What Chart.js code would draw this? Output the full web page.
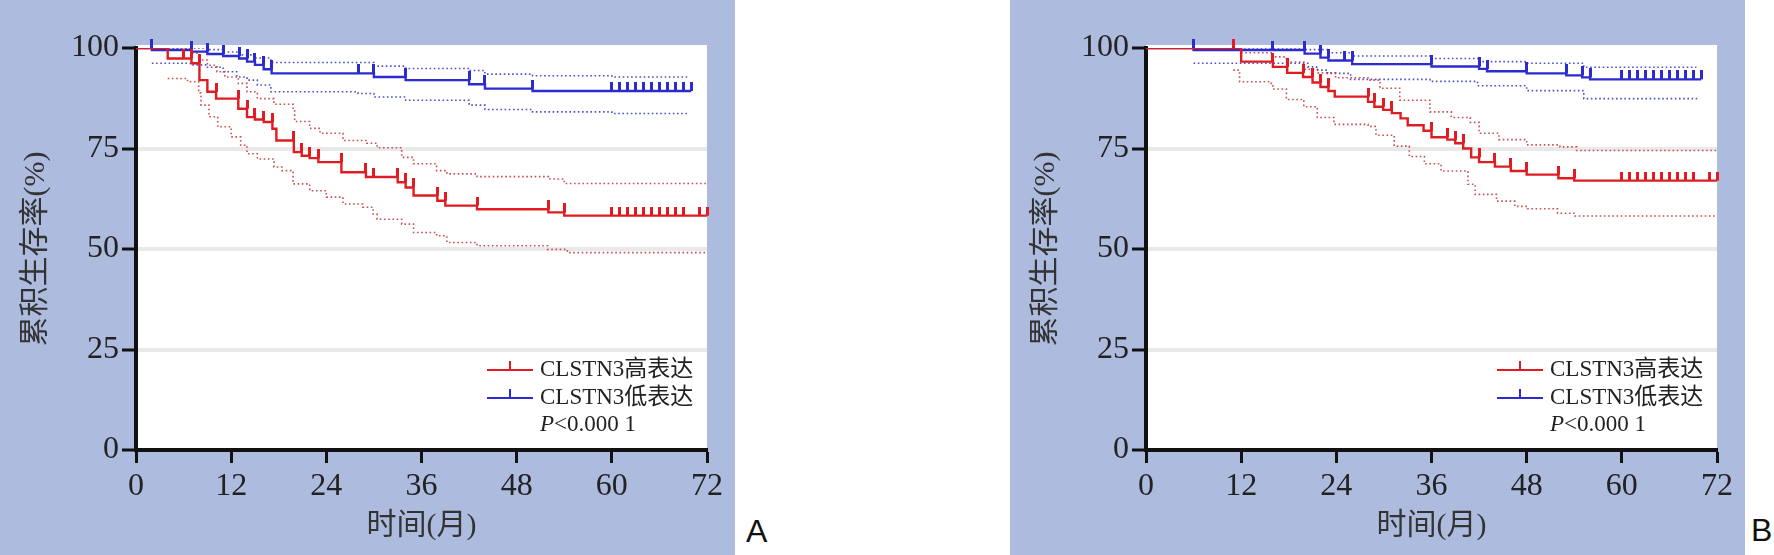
<!DOCTYPE html>
<html>
<head>
<meta charset="utf-8">
<script src="https://cdn.jsdelivr.net/npm/chart.js@4.4.0/dist/chart.umd.min.js"></script>
<style>
  body { margin: 0; background: #fff; width: 1774px; height: 555px; position: relative; overflow: hidden; }
  canvas { position: absolute; top: 0; }
  .tag { position: absolute; font: 32px "Liberation Sans", Arial, sans-serif; color: #111; line-height: 32px; }
</style>
</head>
<body>
<canvas id="chartA" width="735" height="555" style="left:0"></canvas>
<canvas id="chartB" width="735" height="555" style="left:1010px"></canvas>
<div class="tag" style="left:746px;top:515px">A</div>
<div class="tag" style="left:1751px;top:514px">B</div>
<script>
const xTicks = [0, 12, 24, 36, 48, 60, 72];
const yTicks = [0, 25, 50, 75, 100];
const seriesNames = ['CLSTN3高表达', 'CLSTN3低表达'];
const pText = '<0.000 1';
const xTitle = '时间(月)';
const yTitle = '累积生存率(%)';

// ---- panel A ----
// high expression (red): step times / survival %
const highA_t = [0, 4, 7, 8, 9, 10.1, 12.9, 14, 15, 16.1, 17.2, 17.7, 19.9, 20.9, 21.9, 23, 25.9, 29, 33, 34, 35, 38, 39, 43, 52, 54, 72];
const highA_s = [100, 97.4, 96.2, 92, 89.1, 87.4, 84.9, 82.8, 82.2, 81.6, 79.9, 77, 74.1, 73.2, 72.6, 71.6, 69.1, 67.9, 66.6, 65.3, 63.3, 62.0, 60.8, 59.9, 59.1, 58.3, 58.3];
const highA_ct = [6, 7, 8, 10.1, 12.9, 14, 15, 16.1, 17.2, 19.9, 20.9, 21.9, 23, 25.9, 29, 30, 33, 34, 35, 38, 39, 43, 52, 54, 60, 61, 62, 63, 64, 65, 66, 67, 68, 69, 71, 72];
const highA_cs = [97.4, 97.4, 96.2, 89.1, 87.4, 84.9, 82.8, 82.2, 81.6, 77.0, 74.1, 73.2, 72.6, 71.6, 69.1, 67.9, 67.9, 66.6, 65.3, 63.3, 62.0, 60.8, 59.9, 59.1, 58.3, 58.3, 58.3, 58.3, 58.3, 58.3, 58.3, 58.3, 58.3, 58.3, 58.3, 58.3];
const highA_upT = [4, 7, 8, 9, 10.2, 11.2, 12.9, 14, 15.3, 17.4, 19.8, 20, 21.9, 23.2, 26.1, 29.1, 30.4, 33.5, 35, 37.9, 39.2, 43, 52, 54, 72];
const highA_upS = [100, 98.7, 97, 95.7, 94.1, 92.8, 91.2, 89.1, 87.4, 86, 84.4, 81.7, 80, 78.8, 77, 76.3, 75.2, 72.8, 71.2, 69.5, 68.7, 68, 67.4, 66.3, 66.3];
const highA_loT = [4, 6.5, 7.9, 8.2, 9.2, 10.3, 12, 13.2, 14, 15.3, 17.4, 18.4, 19.8, 21.9, 24, 26.1, 28.6, 29.9, 30.4, 33.5, 35, 37.9, 39.2, 43, 51.9, 54.4, 72];
const highA_loS = [92.4, 91.6, 88.8, 85.8, 82.9, 80.4, 77.9, 75.8, 73.7, 72.4, 70.4, 69.5, 66.2, 64.5, 62.9, 61.2, 60.4, 58.7, 57.4, 56.2, 54.1, 53.3, 51.6, 50.8, 49.9, 49.1, 49.1];

// low expression (blue)
const lowA_t = [0, 2, 7, 9, 11, 13, 14, 15, 16.1, 17.1, 30, 34, 42, 44, 50, 70];
const lowA_s = [100, 99.5, 99.1, 98.5, 98.0, 97.4, 96.6, 95.8, 94.7, 93.7, 92.8, 92.0, 91.0, 89.9, 89.3, 89.3];
const lowA_ct = [2, 7, 9, 11, 13, 14, 15, 16.1, 17.1, 28, 30, 34, 42, 44, 50, 60, 61, 62, 63, 64, 65, 66, 67, 68, 69, 70];
const lowA_cs = [100, 99.5, 99.1, 98.5, 98.0, 97.4, 96.6, 95.8, 94.7, 93.7, 93.7, 92.8, 92.0, 91.0, 89.9, 89.3, 89.3, 89.3, 89.3, 89.3, 89.3, 89.3, 89.3, 89.3, 89.3, 89.3];
const lowA_upT = [2, 9, 11, 13, 15, 17, 30, 34, 42, 44, 50, 60, 69.5];
const lowA_upS = [100, 99.6, 99.0, 98.3, 97.5, 96.4, 95.5, 94.9, 94.4, 93.5, 93.1, 92.8, 92.8];
const lowA_loT = [2, 7.2, 9, 11, 12.7, 14, 15.3, 17, 28, 30, 34, 42, 44, 50, 60, 69.5];
const lowA_loS = [96.2, 95.8, 95.2, 94.1, 92.8, 92.0, 90.8, 89.1, 88.7, 87.8, 87.0, 85.8, 84.7, 84.1, 83.7, 83.7];

// ---- panel B ----
const highB_t = [0, 12, 16, 17.8, 19.8, 21, 22, 23, 23.8, 28, 28.8, 29.9, 31, 32.1, 33, 35, 36, 38, 39, 40, 41, 42, 44, 46, 48, 52, 54, 72];
const highB_s = [100, 96.6, 95.3, 93.8, 92.8, 91.4, 90.3, 89.3, 87.9, 86.6, 85.4, 84.6, 83.8, 82.5, 80.8, 79.4, 77.8, 77.2, 76.3, 75.0, 72.8, 71.6, 70.5, 69.4, 68.5, 67.6, 67.0, 67.0];
const highB_ct = [11, 16, 17.8, 19.8, 21, 22, 23, 28, 28.8, 29.9, 31, 36, 38, 39, 40, 42, 44, 46, 48, 52, 54, 60, 61, 62, 63, 64, 65, 66, 67, 68, 69, 71, 72];
const highB_cs = [100, 96.6, 95.3, 93.8, 92.8, 91.4, 90.3, 87.9, 86.6, 85.4, 84.6, 79.4, 77.8, 77.2, 76.3, 72.8, 71.6, 70.5, 69.4, 68.5, 67.6, 67.0, 67.0, 67.0, 67.0, 67.0, 67.0, 67.0, 67.0, 67.0, 67.0, 67.0, 67.0];
const highB_upT = [11, 12, 16, 17.7, 19.9, 21.6, 23.9, 28, 29.5, 32, 35.8, 38.5, 40.9, 42, 44.5, 48, 52.2, 54.3, 72];
const highB_upS = [100, 98.8, 97.8, 96.5, 94.7, 93.8, 92.6, 92.0, 90.0, 87.0, 84.1, 82.7, 81.5, 78.8, 77.2, 75.9, 75.4, 74.5, 74.5];
const highB_loT = [11, 11.8, 15.8, 16, 17.7, 19.9, 21.6, 23.7, 28, 29, 31.3, 33.2, 35.1, 37.2, 40.6, 41.5, 44.2, 46.5, 48.1, 51.9, 54.1, 72];
const highB_loS = [94.5, 91.6, 91.2, 89.8, 87.2, 85.4, 82.7, 81.0, 80.5, 78.3, 75.6, 73.0, 71.2, 69.4, 66.1, 63.6, 61.9, 60.6, 60.0, 58.9, 58.2, 58.2];

const lowB_t = [0, 6, 20, 22, 23, 26, 36, 42, 43, 48, 53, 55, 56, 70];
const lowB_s = [100, 99.5, 98.6, 97.6, 96.9, 96.0, 95.4, 94.8, 94.2, 93.7, 93.2, 92.7, 92.2, 92.2];
const lowB_ct = [6, 16, 20, 22, 23, 25, 26, 36, 42, 43, 48, 53, 55, 56, 60, 61, 62, 63, 64, 65, 66, 67, 68, 69, 70];
const lowB_cs = [100, 99.5, 99.5, 98.6, 97.6, 96.9, 96.9, 96.0, 95.4, 94.8, 94.2, 93.7, 93.2, 92.7, 92.2, 92.2, 92.2, 92.2, 92.2, 92.2, 92.2, 92.2, 92.2, 92.2, 92.2];
const lowB_upT = [6, 20, 23, 26, 36, 42, 48, 55.2, 69.4];
const lowB_upS = [100, 99.6, 98.8, 98.0, 97.4, 96.6, 96.2, 95.2, 95.2];
const lowB_loT = [6, 16, 20.4, 21.5, 22.9, 25.8, 35.8, 41.8, 48, 55.2, 69.4];
const lowB_loS = [96.2, 96.2, 95.3, 94.5, 93.7, 92.2, 91.7, 90.6, 89.4, 87.4, 87.2];

const RED = '#e01c22';
const BLUE = '#2b2bcf';
const RED_CI = 'rgba(200,60,60,0.9)';
const BLUE_CI = 'rgba(60,60,200,0.9)';
const serif = '"Liberation Serif", "Times New Roman", serif';
const mixed = '"Liberation Serif", "Noto Sans CJK SC", sans-serif';

function pts(t, s) {
  return t.map((v, i) => ({ x: v, y: s[i] }));
}

// censor mark: short vertical tick rising from the curve
function tickImg(color) {
  const c = document.createElement('canvas');
  c.width = 3; c.height = 18;
  const g = c.getContext('2d');
  g.fillStyle = color;
  g.fillRect(0, 0, 3, 9);
  return c;
}

function kmSet(t, s, color, order) {
  return { data: pts(t, s), borderColor: color, borderWidth: 2.4, stepped: true,
    pointRadius: 0, fill: false, order: order };
}
function censorSet(t, s, color, order) {
  return { data: pts(t, s), showLine: false, pointStyle: tickImg(color), pointRadius: 5,
    borderColor: color, backgroundColor: color, order: order, clip: false };
}
function ciSet(t, s, color) {
  return { data: pts(t, s), borderColor: color, borderWidth: 1.6, borderDash: [1.6, 2.6],
    stepped: true, pointRadius: 0, fill: false, order: 6 };
}

const panelBg = {
  id: 'panelBg',
  beforeDraw(chart) {
    const { ctx, chartArea: a } = chart;
    ctx.save();
    ctx.fillStyle = '#adbbde';
    ctx.fillRect(0, 0, chart.width, chart.height);
    ctx.fillStyle = '#fff';
    ctx.fillRect(a.left, a.top - 3, a.right - a.left, a.bottom - a.top + 3);
    ctx.restore();
  }
};

const kmLegend = {
  id: 'kmLegend',
  afterDatasetsDraw(chart) {
    const { ctx, chartArea: a } = chart;
    const x0 = a.left + 351, x1 = a.left + 397, tx = a.left + 404;
    const rows = [a.top + 322, a.top + 350, a.top + 377];
    const colors = [RED, BLUE];
    ctx.save();
    ctx.textBaseline = 'middle';
    seriesNames.forEach((name, i) => {
      const y = rows[i];
      const mid = (x0 + x1) / 2;
      ctx.strokeStyle = colors[i];
      ctx.lineWidth = 2;
      ctx.beginPath();
      ctx.moveTo(x0, y); ctx.lineTo(x1, y);
      ctx.moveTo(mid, y); ctx.lineTo(mid, y - 9);
      ctx.stroke();
      ctx.fillStyle = '#222';
      ctx.font = '23px ' + mixed;
      ctx.fillText(name, tx, y);
    });
    ctx.font = 'italic 23px ' + serif;
    ctx.fillText('P', tx, rows[2]);
    const w = ctx.measureText('P').width;
    ctx.font = '23px ' + serif;
    ctx.fillText(pText, tx + w, rows[2]);
    ctx.restore();
  }
};

function makeChart(id, sets) {
  return new Chart(document.getElementById(id), {
    type: 'line',
    data: { datasets: sets },
    plugins: [panelBg, kmLegend],
    options: {
      responsive: false,
      animation: false,
      devicePixelRatio: 1,
      events: [],
      layout: { padding: { left: 0, right: 28, top: 48, bottom: 0 } },
      plugins: { legend: { display: false }, tooltip: { enabled: false } },
      scales: {
        x: {
          type: 'linear', min: 0, max: 72,
          afterBuildTicks: s => { s.ticks = xTicks.map(v => ({ value: v })); },
          afterFit: s => { s.height = 105; },
          grid: { drawOnChartArea: false, color: 'rgba(0,0,0,0)', tickColor: '#111', tickWidth: 3, tickLength: 13 },
          border: { color: '#111', width: 4 },
          ticks: { color: '#222', font: { family: serif, size: 32 }, padding: 4, maxRotation: 0 },
          title: { display: true, text: xTitle, color: '#333', font: { family: mixed, size: 30 },
            padding: { top: 0, bottom: 11 } }
        },
        y: {
          type: 'linear', min: 0, max: 100,
          afterBuildTicks: s => { s.ticks = yTicks.map(v => ({ value: v })); },
          afterFit: s => { s.width = 136; },
          grid: {
            color: c => (c.tick && (c.tick.value === 0 || c.tick.value === 100)) ? 'rgba(0,0,0,0)' : '#e9e9e9',
            lineWidth: 4, tickColor: '#111', tickWidth: 3, tickLength: 14
          },
          border: { color: '#111', width: 4 },
          ticks: { color: '#222', font: { family: serif, size: 32 }, padding: 3 },
          title: { display: true, text: yTitle, color: '#333', font: { family: mixed, size: 30 },
            padding: { top: 18, bottom: 0 } }
        }
      }
    }
  });
}

makeChart('chartA', [
  kmSet(highA_t, highA_s, RED, 1),
  kmSet(lowA_t, lowA_s, BLUE, 3),
  censorSet(highA_ct, highA_cs, RED, 0),
  censorSet(lowA_ct, lowA_cs, BLUE, 2),
  ciSet(highA_upT, highA_upS, RED_CI),
  ciSet(highA_loT, highA_loS, RED_CI),
  ciSet(lowA_upT, lowA_upS, BLUE_CI),
  ciSet(lowA_loT, lowA_loS, BLUE_CI)
]);

makeChart('chartB', [
  kmSet(highB_t, highB_s, RED, 1),
  kmSet(lowB_t, lowB_s, BLUE, 3),
  censorSet(highB_ct, highB_cs, RED, 0),
  censorSet(lowB_ct, lowB_cs, BLUE, 2),
  ciSet(highB_upT, highB_upS, RED_CI),
  ciSet(highB_loT, highB_loS, RED_CI),
  ciSet(lowB_upT, lowB_upS, BLUE_CI),
  ciSet(lowB_loT, lowB_loS, BLUE_CI)
]);
</script>
</body>
</html>
